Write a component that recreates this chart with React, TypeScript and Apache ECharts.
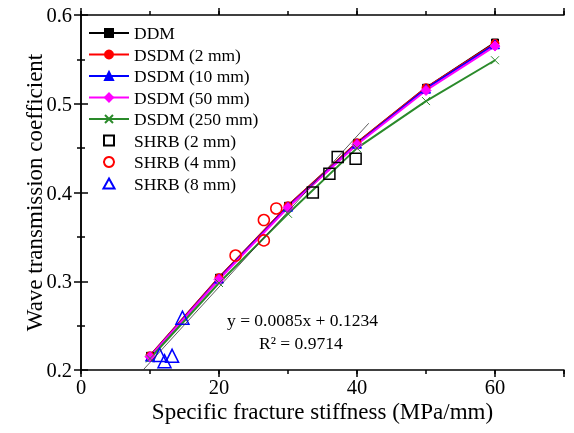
import React, { useEffect, useRef } from "react";
import * as echarts from "echarts";

const modelX = [10, 20, 30, 40, 50, 60];
const ddm = [0.216, 0.304, 0.385, 0.456, 0.518, 0.569];
const dsdm2 = [0.216, 0.304, 0.385, 0.456, 0.518, 0.568];
const dsdm10 = [0.215, 0.303, 0.384, 0.455, 0.517, 0.567];
const dsdm50 = [0.215, 0.302, 0.383, 0.454, 0.515, 0.565];
const dsdm250 = [0.213, 0.298, 0.376, 0.45, 0.503, 0.549];

const shrb2X = [33.6, 36.0, 37.2, 39.8];
const shrb2Y = [0.4, 0.421, 0.44, 0.438];
const shrb4X = [22.4, 26.5, 26.5, 28.3];
const shrb4Y = [0.329, 0.346, 0.369, 0.382];
const shrb8X = [14.7, 11.4, 12.1, 13.2];
const shrb8Y = [0.259, 0.217, 0.21, 0.216];

const fitX = [9.0, 41.7];
const fitY = [0.2, 0.478];

const xLabelTicks = [0, 20, 40, 60];
const yLabelTicks = [0.2, 0.3, 0.4, 0.5, 0.6];

const FONT = "Liberation Serif";

const SQUARE = "path://M0,0L10,0L10,10L0,10Z";
const CIRCLE = "path://M5,0A5,5,0,1,1,4.99,0Z";
const TRIANGLE = "path://M5,0L10,9L0,9Z";

const pair = (xs: number[], ys: number[]) => xs.map((x, i) => [x, ys[i]]);

export default function App() {
  const ref = useRef<HTMLDivElement>(null);
  useEffect(() => {
    if (!ref.current) return;
    const chart = echarts.init(ref.current, undefined, { renderer: "svg" });
    const axisLine = { show: true, lineStyle: { color: "#000", width: 1.5 } };
    const xBase = { type: "value", min: 0, max: 70, splitLine: { show: false } };
    const yBase = { type: "value", min: 0.2, max: 0.6, splitLine: { show: false } };
    const lineSeries = (name: string, ys: number[], color: string, symbol: string, size: number, extra: any = {}) => ({
      name,
      type: "line",
      data: pair(modelX, ys),
      symbol,
      symbolSize: size,
      lineStyle: { color, width: 2 },
      itemStyle: { color, borderColor: color, borderWidth: 1, ...(extra.itemStyle || {}) },
      z: extra.z || 3,
    });
    const scatterSeries = (name: string, xs: number[], ys: number[], color: string, symbol: string, size: number) => ({
      name,
      type: "scatter",
      data: pair(xs, ys),
      symbol,
      symbolSize: size,
      symbolKeepAspect: true,
      itemStyle: { color: "rgba(0,0,0,0)", borderColor: color, borderWidth: 1.5, opacity: 1 },
      z: 5,
    });
    chart.setOption({
      animation: false,
      grid: { left: 81, right: 10, top: 15, bottom: 63, outerBoundsMode: "none" },
      legend: {
        orient: "vertical",
        left: 83,
        top: 19,
        itemWidth: 40,
        itemHeight: 10,
        itemGap: 3.5,
        symbolKeepAspect: true,
        textStyle: { fontFamily: FONT, fontSize: 17.5, color: "#000" },
        data: [
          "DDM",
          "DSDM (2 mm)",
          "DSDM (10 mm)",
          "DSDM (50 mm)",
          "DSDM (250 mm)",
          { name: "SHRB (2 mm)", icon: SQUARE },
          { name: "SHRB (4 mm)", icon: CIRCLE },
          { name: "SHRB (8 mm)", icon: TRIANGLE },
        ],
      },
      xAxis: [
        {
          ...xBase,
          position: "bottom",
          interval: 10,
          axisLine,
          axisTick: { show: true, inside: false, length: 4, lineStyle: { color: "#000", width: 1.5 } },
          axisLabel: { show: false },
        },
        {
          ...xBase,
          position: "bottom",
          interval: 20,
          axisLine: { show: false },
          axisTick: { show: true, inside: false, length: 7, lineStyle: { color: "#000", width: 1.5 } },
          axisLabel: {
            show: true,
            margin: 7,
            fontFamily: FONT,
            fontSize: 20.5,
            lineHeight: 20,
            color: "#000",
            formatter: (v: number) => (xLabelTicks.indexOf(v) >= 0 ? String(v) : ""),
          },
          name: "Specific fracture stiffness (MPa/mm)",
          nameLocation: "middle",
          nameGap: 30,
          nameMoveOverlap: false,
          nameTextStyle: { fontFamily: FONT, fontSize: 23, lineHeight: 23, color: "#000" },
        },
        {
          ...xBase,
          position: "top",
          interval: 10,
          axisLine,
          axisTick: { show: true, inside: false, length: 4, lineStyle: { color: "#000", width: 1.5 } },
          axisLabel: { show: false },
        },
        {
          ...xBase,
          position: "top",
          interval: 20,
          axisLine: { show: false },
          axisTick: { show: true, inside: false, length: 7, lineStyle: { color: "#000", width: 1.5 } },
          axisLabel: { show: false },
        },
      ],
      yAxis: [
        {
          ...yBase,
          position: "left",
          interval: 0.1,
          axisLine,
          axisTick: { show: true, inside: false, length: 7, lineStyle: { color: "#000", width: 1.5 } },
          minorTick: { show: true, splitNumber: 2, length: 4, lineStyle: { color: "#000", width: 1.5 } },
          axisLabel: {
            show: true,
            margin: 9,
            fontFamily: FONT,
            fontSize: 20.5,
            color: "#000",
            formatter: (v: number) => {
              const hit = yLabelTicks.find((t) => Math.abs(t - v) < 1e-6);
              return hit !== undefined ? hit.toFixed(1) : "";
            },
          },
          name: "Wave transmission coefficient",
          nameLocation: "middle",
          nameRotate: 90,
          nameGap: 35,
          nameMoveOverlap: false,
          nameTextStyle: { fontFamily: FONT, fontSize: 23, color: "#000" },
        },
        {
          ...yBase,
          position: "right",
          interval: 0.1,
          axisLine,
          axisTick: { show: true, inside: false, length: 7, lineStyle: { color: "#000", width: 1.5 } },
          minorTick: { show: true, splitNumber: 2, length: 4, lineStyle: { color: "#000", width: 1.5 } },
          axisLabel: { show: false },
        },
      ],
      series: [
        {
          name: "fit",
          type: "line",
          data: pair(fitX, fitY),
          symbol: "none",
          lineStyle: { color: "#333", width: 0.8 },
          z: 6,
        },
        lineSeries("DDM", ddm, "#000000", "rect", 7),
        lineSeries("DSDM (2 mm)", dsdm2, "#ff0000", "circle", 8),
        lineSeries("DSDM (10 mm)", dsdm10, "#0000ff", "triangle", 9),
        lineSeries("DSDM (50 mm)", dsdm50, "#ff00ff", "diamond", 10),
        lineSeries("DSDM (250 mm)", dsdm250, "#2a8a2a", "path://M0,0L10,10M10,0L0,10", 8, {
          itemStyle: { color: "rgba(0,0,0,0)", borderColor: "#2a8a2a", borderWidth: 1 },
        }),
        scatterSeries("SHRB (2 mm)", shrb2X, shrb2Y, "#000000", "rect", 11),
        scatterSeries("SHRB (4 mm)", shrb4X, shrb4Y, "#ff0000", "circle", 11),
        scatterSeries("SHRB (8 mm)", shrb8X, shrb8Y, "#0000ff", "triangle", 13),
      ],
      graphic: [
        {
          type: "text",
          left: 227,
          top: 311,
          style: { text: "y = 0.0085x + 0.1234", font: `17.5px ${FONT}`, fill: "#000" },
        },
        {
          type: "text",
          left: 259,
          top: 334,
          style: { text: "R² = 0.9714", font: `17.5px ${FONT}`, fill: "#000" },
        },
      ],
    });
    return () => chart.dispose();
  }, []);
  return <div ref={ref} style={{ position: "fixed", left: 0, top: 0, width: 574, height: 433 }} />;
}
